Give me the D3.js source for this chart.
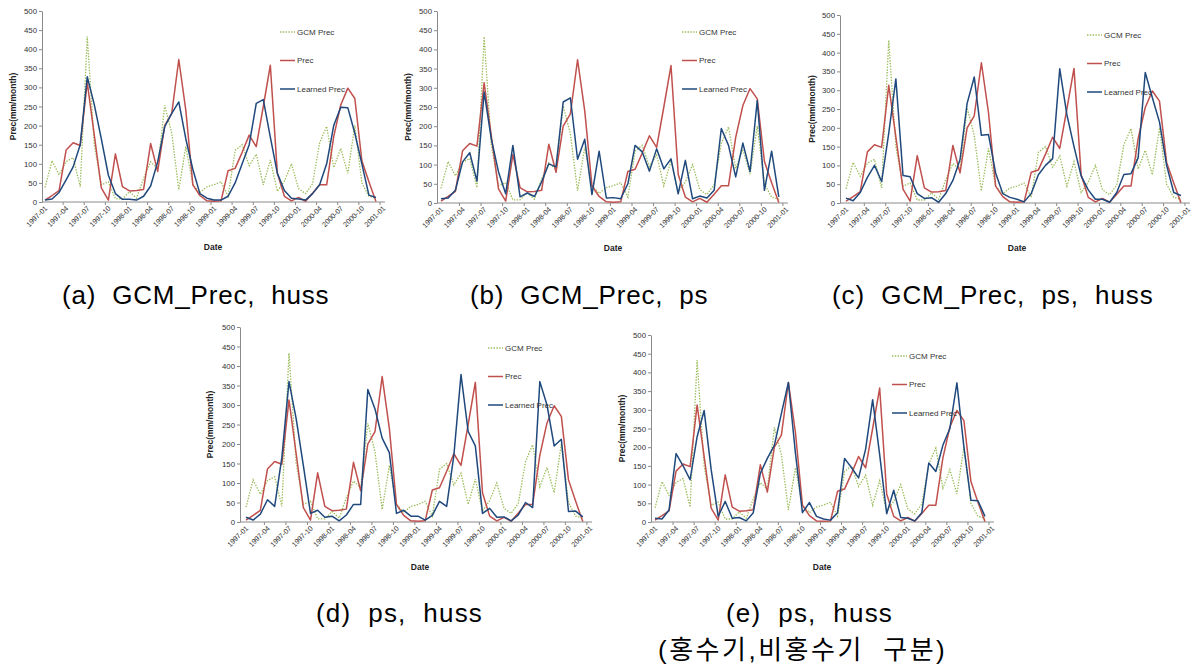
<!DOCTYPE html>
<html>
<head>
<meta charset="utf-8">
<script src="https://cdn.jsdelivr.net/npm/d3@7"></script>
<style>
  body { margin: 0; background: #fff; }
  svg { display: block; }
  .tick text { font-family: "Liberation Sans", Arial, sans-serif; }
</style>
</head>
<body>
<svg id="fig" width="1194" height="665"></svg>
<script>
// month index 0 = 1997-01 ... 47 = 2000-12, axis runs to 2001-01
let xTickLabels = ["1997-01","1997-04","1997-07","1997-10","1998-01","1998-04","1998-07","1998-10",
  "1999-01","1999-04","1999-07","1999-10","2000-01","2000-04","2000-07","2000-10","2001-01"];
let yTicks = [0, 50, 100, 150, 200, 250, 300, 350, 400, 450, 500];

// observed and GCM precipitation (same in every panel)
let obsPrec = [5,17,30,136,155,148,313,175,37,5, 126,40,29,30,33,153,80,200,232,373,
  240,45,17,3,2,3,82,88,130,175, 145,250,358,75,15,3,12,2,23,45, 45,171,254,298,271,108,53,1];
let gcmPrec = [38,108,71,106,116,40,433,150,45,53, 8,8,27,10,62,105,88,253,180,32,
  145,45,25,40,45,53,15,135,150,95, 125,45,110,28,55,100,35,22,48,155, 198,90,140,75,200,50,15,10];

// learned precipitation, one series per experiment
let learnedA = [5,8,25,58,92,150,328,255,165,70, 22,7,7,5,15,42,105,197,232,262,
  165,85,22,10,5,5,15,50,100,150, 258,268,170,75,30,10,8,5,22,45, 100,200,248,247,180,100,18,12];
let learnedB = [11,13,33,107,131,57,289,167,81,24, 150,16,26,17,55,102,94,263,274,114,
  166,22,135,13,14,11,50,150,133,83, 141,89,115,24,111,11,18,13,33,194, 150,68,156,82,267,33,135,16];
let learnedC = [13,6,28,68,100,57,186,330,73,70, 25,12,14,2,25,60,115,265,335,180,
  182,80,25,15,10,3,25,75,100,118, 357,235,150,72,35,10,10,2,28,76, 78,120,347,280,215,100,28,20];
let learnedD = [12,5,20,57,40,165,360,265,145,22, 30,12,15,3,18,45,45,340,290,215,
  178,22,30,15,15,5,17,53,40,170, 378,232,195,22,35,12,13,3,18,50, 37,360,300,195,212,27,28,13];
let learnedE = [10,8,32,183,150,113,228,298,140,15, 55,10,12,3,25,130,170,205,290,373,
  185,25,52,15,8,5,25,170,145,118, 195,327,180,22,85,12,10,3,25,158, 135,205,250,372,200,58,57,15];

let legendNames = ["GCM Prec", "Prec", "Learned Prec"];

let captions = [
  {text: "(a)  GCM_Prec,  huss", x: 62, y: 304, ls: 0.8},
  {text: "(b)  GCM_Prec,  ps", x: 470, y: 304, ls: 0.8},
  {text: "(c)  GCM_Prec,  ps,  huss", x: 832, y: 304, ls: 0.9},
  {text: "(d)  ps,  huss", x: 316, y: 622, ls: 1.2},
  {text: "(e)  ps,  huss", x: 726, y: 622, ls: 1.2},
  {text: "(홍수기,비홍수기  구분)", x: 658, y: 659, ls: 2.5}
];

// panel layout in page pixels
let panels = [
  {learned: learnedA, axisX: 42,  x0: 45,  x1: 383, yBot: 202, yTop: 11,  legX: 280,  legY: 32,  ylabX: 13,  dateX: 213, dateY: 247},
  {learned: learnedB, axisX: 437, x0: 441, x1: 786, yBot: 203, yTop: 11,  legX: 682,  legY: 32,  ylabX: 408, dateX: 613, dateY: 248},
  {learned: learnedC, axisX: 840, x0: 846, x1: 1188, yBot: 203, yTop: 15, legX: 1087, legY: 35,  ylabX: 812, dateX: 1017, dateY: 248},
  {learned: learnedD, axisX: 240, x0: 246, x1: 590, yBot: 522, yTop: 327, legX: 488, legY: 348, ylabX: 210, dateX: 420, dateY: 567},
  {learned: learnedE, axisX: 651, x0: 655, x1: 992, yBot: 522, yTop: 335, legX: 892, legY: 356, ylabX: 622, dateX: 822, dateY: 567}
];

let svg = d3.select("#fig");
let axisColor = "#8a8a8a";
let colors = {gcm: "#9bbb59", obs: "#c0504d", learned: "#1f497d"};
let chartFont = "Liberation Sans, Arial, sans-serif";

function drawPanel(p) {
  let g = svg.append("g");
  let x = d3.scaleLinear().domain([0, 48]).range([p.x0, p.x1]);
  let y = d3.scaleLinear().domain([0, 500]).range([p.yBot, p.yTop]);

  // y axis
  let yAxis = g.append("g")
    .attr("transform", "translate(" + p.axisX + ",0)")
    .call(d3.axisLeft(y).tickValues(yTicks).tickSize(3).tickSizeOuter(0).tickPadding(2));
  yAxis.select(".domain").attr("stroke", axisColor);
  yAxis.selectAll(".tick line").attr("stroke", axisColor);
  yAxis.selectAll(".tick text").attr("font-size", 7.8).attr("fill", "#333");

  // x axis: tick marks between categories, labels every 3 months
  let xAxis = g.append("g")
    .attr("transform", "translate(0," + p.yBot + ")")
    .call(d3.axisBottom(x).tickValues(d3.range(2.5, 48, 3)).tickSize(3).tickSizeOuter(0).tickFormat(""));
  xAxis.select(".domain").attr("d", "M" + p.axisX + ",0H" + (x(48) + 2)).attr("stroke", axisColor);
  xAxis.selectAll(".tick line").attr("stroke", axisColor);

  g.append("g").selectAll("text")
    .data(xTickLabels)
    .join("text")
    .attr("transform", (d, i) => "translate(" + (x(i * 3) + 1) + "," + (p.yBot + 5) + ") rotate(-45)")
    .attr("text-anchor", "end")
    .attr("dy", "0.35em")
    .attr("font-family", chartFont)
    .attr("font-size", 7.2)
    .attr("fill", "#333")
    .text(d => d);

  // axis titles
  g.append("text")
    .attr("transform", "translate(" + p.ylabX + "," + ((p.yBot + p.yTop) / 2) + ") rotate(-90)")
    .attr("text-anchor", "middle")
    .attr("dy", "0.35em")
    .attr("font-family", chartFont)
    .attr("font-size", 8.5)
    .attr("font-weight", "bold")
    .attr("fill", "#222")
    .text("Prec(mm/month)");
  g.append("text")
    .attr("x", p.dateX).attr("y", p.dateY)
    .attr("text-anchor", "middle")
    .attr("dy", "0.35em")
    .attr("font-family", chartFont)
    .attr("font-size", 8.5)
    .attr("font-weight", "bold")
    .attr("fill", "#222")
    .text("Date");

  let line = d3.line().x((d, i) => x(i)).y(d => y(d));

  g.append("path").datum(gcmPrec)
    .attr("d", line).attr("fill", "none")
    .attr("stroke", colors.gcm).attr("stroke-width", 1.3).attr("stroke-dasharray", "1.4,1.4");
  g.append("path").datum(obsPrec)
    .attr("d", line).attr("fill", "none")
    .attr("stroke", colors.obs).attr("stroke-width", 1.5).attr("stroke-linejoin", "round");
  g.append("path").datum(p.learned)
    .attr("d", line).attr("fill", "none")
    .attr("stroke", colors.learned).attr("stroke-width", 1.5).attr("stroke-linejoin", "round");

  // legend
  let legColors = [colors.gcm, colors.obs, colors.learned];
  legendNames.forEach((name, i) => {
    let ly = p.legY + i * 28.5;
    g.append("line")
      .attr("x1", p.legX).attr("x2", p.legX + 15)
      .attr("y1", ly).attr("y2", ly)
      .attr("stroke", legColors[i])
      .attr("stroke-width", i === 0 ? 1.3 : 1.5)
      .attr("stroke-dasharray", i === 0 ? "1.4,1.4" : null);
    g.append("text")
      .attr("x", p.legX + 17).attr("y", ly)
      .attr("dy", "0.35em")
      .attr("font-family", chartFont)
      .attr("font-size", 8)
      .attr("fill", "#333")
      .text(name);
  });
}

panels.forEach(drawPanel);

svg.selectAll("text.caption")
  .data(captions)
  .join("text")
  .attr("class", "caption")
  .attr("x", d => d.x).attr("y", d => d.y)
  .attr("font-family", "Liberation Sans, 'Noto Sans CJK KR', sans-serif")
  .attr("font-size", 26)
  .attr("letter-spacing", d => d.ls)
  .attr("fill", "#000")
  .style("white-space", "pre")
  .text(d => d.text);
</script>
</body>
</html>
